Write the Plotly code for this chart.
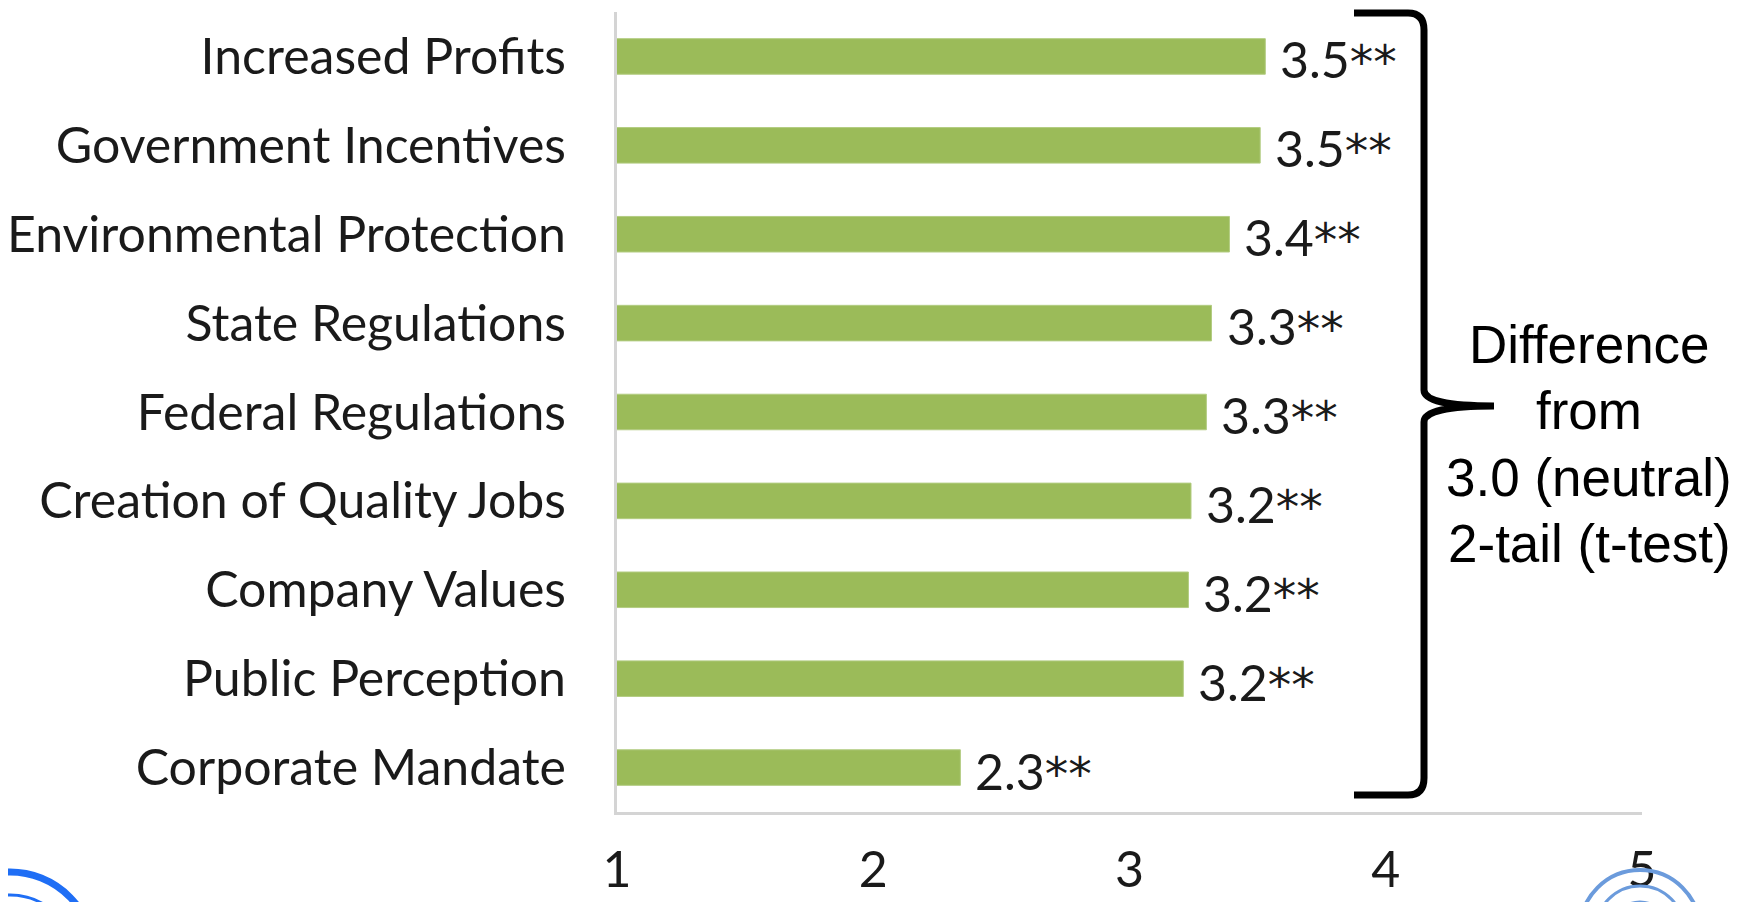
import plotly.graph_objects as go

categories = ["Increased Profits", "Government Incentives", "Environmental Protection",
              "State Regulations", "Federal Regulations", "Creation of Quality Jobs",
              "Company Values", "Public Perception", "Corporate Mandate"]
values = [3.53, 3.51, 3.39, 3.32, 3.30, 3.24, 3.23, 3.21, 2.34]
value_numbers = ["3.5", "3.5", "3.4", "3.3", "3.3", "3.2", "3.2", "3.2", "2.3"]
value_marks = ["**"] * 9
x_ticks = [1, 2, 3, 4, 5]
bracket_text = ["Difference", "from", "3.0 (neutral)", "2-tail (t-test)"]

# the page body has an 8px margin: figure coords = page coords - 8
OFF = 8
W, H = 1748 - OFF, 902 - OFF
L, T = 617 - OFF, 12 - OFF
B = H - (812 - OFF)
R = W - (1642 - OFF)
PW, PH = W - L - R, H - T - B

def px(x):  # page pixel -> paper
    return (x - OFF - L) / PW

def py(y):
    return (H - B - (y - OFF)) / PH

LABEL_FONT = "Lato"
TXT = "#1a1a1a"

fig = go.Figure()
fig.add_trace(go.Bar(
    y=categories, x=values, orientation="h",
    marker=dict(color="#9BBB59", line=dict(color="#b3cc82", width=1)),
    hoverinfo="x+y",
))

for c, v, n, m in zip(categories, values, value_numbers, value_marks):
    txt = f"{n}<span style='font-family:DejaVu Sans;font-size:47px'>{m}</span>"
    fig.add_annotation(x=v, y=c, xref="x", yref="y", text=txt, showarrow=False,
                       xanchor="left", yanchor="middle", xshift=13, yshift=-3,
                       font=dict(family=LABEL_FONT, size=50, color=TXT))

# curly brace
brace = (f"M {px(1354)},{py(13)} L {px(1408)},{py(13)} Q {px(1424)},{py(13)} {px(1424)},{py(30)} "
         f"L {px(1424)},{py(390)} Q {px(1424)},{py(406)} {px(1494)},{py(406)} "
         f"Q {px(1424)},{py(406)} {px(1424)},{py(422)} "
         f"L {px(1424)},{py(778)} Q {px(1424)},{py(795)} {px(1408)},{py(795)} L {px(1354)},{py(795)}")
fig.add_shape(type="path", path=brace, xref="paper", yref="paper",
              line=dict(color="black", width=7))

for line, yc in zip(bracket_text, [344, 410, 477, 543]):
    fig.add_annotation(x=px(1589), y=py(yc), xref="paper", yref="paper",
                       text=line, showarrow=False,
                       xanchor="center", yanchor="middle", align="center",
                       font=dict(family="Liberation Sans, Arial", size=53, color="black"))

# partial logos at the bottom corners
fig.add_shape(type="circle", xref="paper", yref="paper",
              x0=px(-75), x1=px(95), y0=py(1045), y1=py(872),
              line=dict(color="#1f6ef5", width=7))
fig.add_shape(type="circle", xref="paper", yref="paper",
              x0=px(-55), x1=px(75), y0=py(1025), y1=py(895),
              line=dict(color="#1f6ef5", width=3))
for r, w in [(60, 4), (44, 3), (28, 3)]:
    fig.add_shape(type="circle", xref="paper", yref="paper",
                  x0=px(1640 - r), x1=px(1640 + r), y0=py(930 + r), y1=py(930 - r),
                  line=dict(color="#6b9bdc", width=w))

fig.update_layout(
    width=W, height=H,
    margin=dict(l=L, r=R, t=T, b=B, pad=0, autoexpand=False),
    paper_bgcolor="white", plot_bgcolor="white",
    bargap=0.6, showlegend=False,
    font=dict(family=LABEL_FONT, color=TXT),
)
fig.update_xaxes(range=[1, 5], tickvals=x_ticks, ticktext=[str(v) for v in x_ticks],
                 showgrid=False, zeroline=False, showline=True, automargin=False,
                 linecolor="#d4d4d4", linewidth=3, ticks="",
                 ticklabelstandoff=12, tickfont=dict(family=LABEL_FONT, size=50, color=TXT))
fig.update_yaxes(autorange="reversed", showgrid=False, zeroline=False, showline=True,
                 automargin=False, linecolor="#d4d4d4", linewidth=3, ticks="",
                 ticklabelstandoff=38, tickfont=dict(family=LABEL_FONT, size=50, color=TXT))

fig.write_html("out.html")
